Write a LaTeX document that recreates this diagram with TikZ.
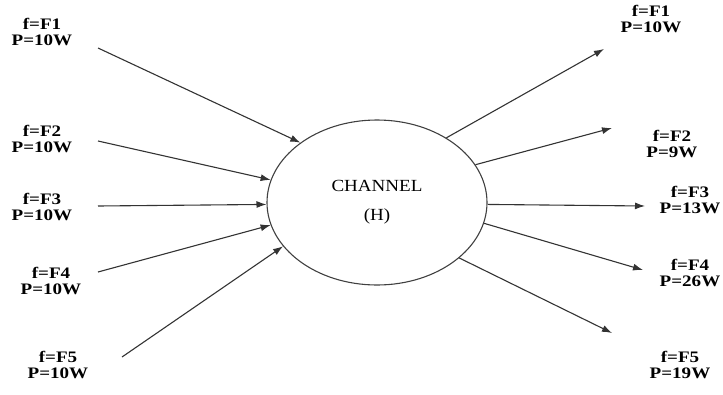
\documentclass[tikz,border=0pt]{standalone}
\usepackage{fontspec}
\setmainfont{Liberation Serif}[FakeStretch=1.12]
\newfontfamily\labfont{Liberation Serif}[FakeStretch=1.19]
\usetikzlibrary{shapes.geometric,arrows.meta}
\begin{document}
\begin{tikzpicture}[x=1pt,y=-1pt,
  lab/.style={font=\labfont\fontsize{16}{15.5}\selectfont\bfseries, align=center, inner sep=0pt},
  arr/.style={draw=black!80, line width=1.1pt, -{Latex[length=10pt,width=7pt]}},
  chan/.style={draw=black!75, line width=1.1pt, ellipse, minimum width=220pt, minimum height=165pt, inner sep=0pt},
  chtext/.style={font=\fontsize{17}{17}\selectfont, inner sep=0pt}]
\useasboundingbox (0,0) rectangle (723,394);
\node[chan] (ch) at (377,202.5) {};
\node[chtext] (t1) at (377,186) {CHANNEL};
\node[chtext] (t2) at (377,216) {(H)};
% left labels
\node[lab] (l1) at (42,32) {f=F1\\P=10W};
\node[lab] (l2) at (42,139) {f=F2\\P=10W};
\node[lab] (l3) at (42,207) {f=F3\\P=10W};
\node[lab] (l4) at (51,281) {f=F4\\P=10W};
\node[lab] (l5) at (58,365) {f=F5\\P=10W};
% right labels
\node[lab] (r1) at (651,19) {f=F1\\P=10W};
\node[lab] (r2) at (672,144) {f=F2\\P=9W};
\node[lab] (r3) at (690,200) {f=F3\\P=13W};
\node[lab] (r4) at (690,273) {f=F4\\P=26W};
\node[lab] (r5) at (680,365) {f=F5\\P=19W};
% free ends
\coordinate (s1) at (98,48);
\coordinate (s2) at (98,141);
\coordinate (s3) at (98,206);
\coordinate (s4) at (98,272);
\coordinate (s5) at (122,357);
\coordinate (e1) at (604,49);
\coordinate (e2) at (612,128);
\coordinate (e3) at (645,206);
\coordinate (e4) at (643,270);
\coordinate (e5) at (612,333);
% arrows
\draw[arr] (s1) -- (ch.142.7);
\draw[arr] (s2) -- (ch.168.3);
\draw[arr] (s3) -- (ch.181.8);
\draw[arr] (s4) -- (ch.192.7);
\draw[arr] (s5) -- (ch.205.8);
\draw[arr] (ch.43.9) -- (e1);
\draw[arr] (ch.21.9) -- (e2);
\draw[arr] (ch.-1.8) -- (e3);
\draw[arr] (ch.-11.7) -- (e4);
\draw[arr] (ch.-34.7) -- (e5);
\end{tikzpicture}
\end{document}
